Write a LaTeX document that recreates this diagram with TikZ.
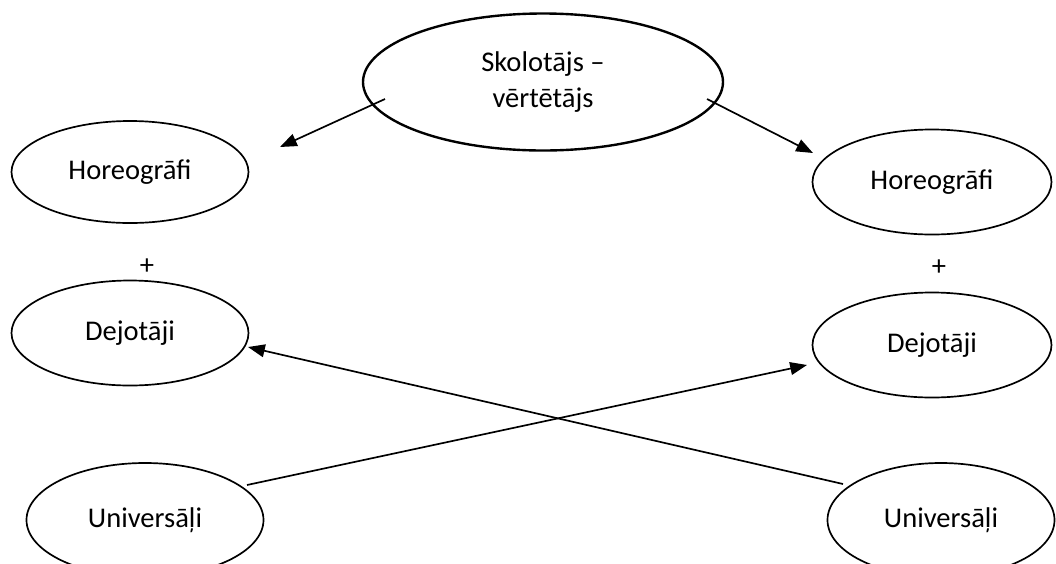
\documentclass[tikz,border=0pt]{standalone}
\usepackage{fontspec}
\setmainfont{Carlito}
\usetikzlibrary{shapes.geometric,arrows.meta}
\tikzset{every node/.style={inner sep=0pt, font=\fontsize{20.3}{25.6}\selectfont},
  bubble/.style={draw, ellipse, line width=1.2pt},
  link/.style={-{Triangle[length=0.42cm,width=0.32cm]}, line width=1.2pt}}

\begin{document}
\begin{tikzpicture}
   \clip (0,0) rectangle (26.4,-14.075);
   \node[bubble, line width=1.7pt, minimum width=9cm, minimum height=3.425cm, align=center] (sk) at (13.575,-2.05) {Skolotājs –\\vērtētājs};
   \node[bubble, minimum width=5.925cm, minimum height=2.55cm]  (hl) at (3.25,-4.3)   {Horeogrāfi};
   \node[bubble, minimum width=5.925cm, minimum height=2.625cm] (dl) at (3.25,-8.325) {Dejotāji};
   \node[bubble, minimum width=5.975cm, minimum height=2.625cm] (hr) at (23.3,-4.55)  {Horeogrāfi};
   \node[bubble, minimum width=5.975cm, minimum height=2.625cm] (dr) at (23.3,-8.625) {Dejotāji};
   \node[bubble, minimum width=5.925cm, minimum height=2.85cm]  (ul) at (3.625,-13.0) {Universāļi};
   \node[bubble, minimum width=5.675cm, minimum height=2.85cm]  (ur) at (23.525,-13.0) {Universāļi};
   \node (pl) at (3.675,-6.675) {+};
   \node (pr) at (23.475,-6.7) {+};

   \coordinate (a1) at (9.625,-2.475);  \coordinate (b1) at (7.0,-3.675);
   \coordinate (a2) at (17.675,-2.475); \coordinate (b2) at (20.325,-3.825);
   \coordinate (a3) at (6.175,-12.125); \coordinate (b3) at (20.175,-9.125);
   \coordinate (a4) at (21.075,-12.1);  \coordinate (b4) at (6.2,-8.675);
   \draw[link] (a1) -- (b1);
   \draw[link] (a2) -- (b2);
   \draw[link] (a3) -- (b3);
   \draw[link] (a4) -- (b4);
\end{tikzpicture}
\end{document}
